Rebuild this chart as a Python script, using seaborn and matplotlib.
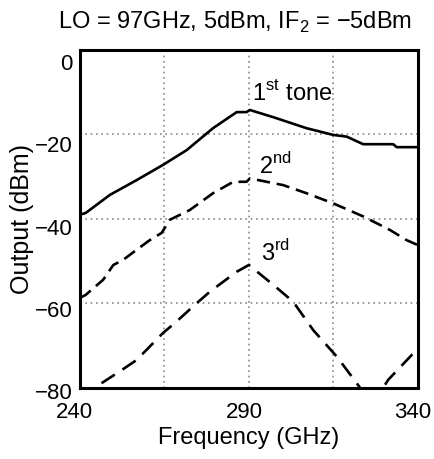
import matplotlib
matplotlib.use("Agg")
import matplotlib.pyplot as plt
import matplotlib.transforms as mtransforms
import numpy as np
import pandas as pd
import seaborn as sns

# 1st tone
f1 = [240, 241.7, 248.9, 256.8, 264.6, 271.6, 279.4, 286.4, 289.3, 290.3, 297.2,
      307.0, 314.9, 318.9, 323.8, 332.7, 333.7, 340]
p1 = [-39.0, -38.6, -34.3, -30.8, -27.2, -23.7, -18.5, -14.7, -14.7, -14.2, -15.9,
      -18.5, -20.1, -20.5, -22.3, -22.3, -23.0, -23.0]

# 2nd tone
f2 = [240, 241.7, 246.9, 249.9, 252.8, 256.8, 260.7, 264.2, 266.6, 272.5, 279.4,
      285.4, 289.3, 290.3, 300.2, 307.0, 314.9, 323.8, 331.7, 336.6, 340]
p2 = [-58.7, -58.0, -54.4, -50.9, -49.7, -47.3, -45.0, -43.3, -40.2, -37.9, -33.9,
      -31.2, -31.2, -30.4, -32.0, -33.9, -36.3, -39.4, -42.6, -45.0, -46.2]

# 3rd tone (dips below the axis limit around 323-330 GHz)
f3 = [246.4, 251.8, 256.8, 260.7, 264.6, 268.6, 273.5, 278.5, 286.4, 290.0, 297.2,
      303.1, 309.0, 316.0, 321.9, 326.5, 331.2, 339.6, 340]
p3 = [-78.9, -76.1, -73.4, -70.2, -67.0, -64.3, -60.7, -57.2, -52.5, -50.9, -55.6,
      -59.6, -66.3, -72.6, -78.9, -84.0, -78.1, -71.0, -70.6]

yticks = [-80, -60, -40, -20, 0]
ytick_labels = ["\u221280", "\u221260", "\u221240", "\u221220", "0"]
xticks = [240, 290, 340]

df = pd.concat([
    pd.DataFrame({"freq": f1, "out": p1, "tone": "1st"}),
    pd.DataFrame({"freq": f2, "out": p2, "tone": "2nd"}),
    pd.DataFrame({"freq": f3, "out": p3, "tone": "3rd"}),
])

sns.set_style("white")
plt.rcParams["font.family"] = ["Liberation Sans", "DejaVu Sans"]
plt.rcParams["mathtext.fontset"] = "custom"
plt.rcParams["mathtext.rm"] = "Liberation Sans"
plt.rcParams["text.color"] = "black"
plt.rcParams["axes.labelcolor"] = "black"
plt.rcParams["xtick.color"] = "black"
plt.rcParams["ytick.color"] = "black"

fig = plt.figure(figsize=(4.34, 4.59), dpi=100)
ax = fig.add_axes([0.184, 0.155, 0.779, 0.736])

styles = {"1st": (None, None), "2nd": (5, 2.6), "3rd": (6, 3.5)}
for tone, (dl, gl) in styles.items():
    d = df[df["tone"] == tone]
    sns.lineplot(data=d, x="freq", y="out", ax=ax, color="black",
                 lw=1.9, sort=False, estimator=None)
    if dl is not None:
        ax.lines[-1].set_dashes([dl, gl])

ax.set_xlim(240, 340)
ax.set_ylim(-80, 0)
ax.set_xticks(xticks)
ax.set_yticks(yticks)
ax.set_yticklabels(ytick_labels)
ax.set_xticks([265, 315], minor=True)
ax.grid(True, which="both", color="#888888", ls=(0, (1, 2.2)), lw=1.2)
ax.tick_params(axis="y", length=0, labelsize=16, pad=5)
ax.tick_params(axis="x", length=0, labelsize=16, pad=10)
# tick labels in the original sit slightly off their gridlines
for lab, dy in zip(ax.get_yticklabels(), [0.03, 0.06, 0.08, 0.10, 0.12]):
    lab.set_transform(lab.get_transform()
                      + mtransforms.ScaledTranslation(0, -dy, fig.dpi_scale_trans))
for lab in ax.get_xticklabels():
    lab.set_transform(lab.get_transform()
                      + mtransforms.ScaledTranslation(-0.05, 0, fig.dpi_scale_trans))
for s in ax.spines.values():
    s.set_linewidth(2.2)
    s.set_color("black")

ax.set_xlabel("Frequency (GHz)", fontsize=17, labelpad=3)
ax.set_ylabel("Output (dBm)", fontsize=18, labelpad=1)
ax.set_title("LO = 97GHz, 5dBm, IF$_2$ = \u22125dBm", fontsize=17, pad=15, x=0.46)

ax.text(291, -10, "1$^{\\rm st}$ tone", fontsize=17, ha="left", va="center")
ax.text(293, -27.5, "2$^{\\rm nd}$", fontsize=17, ha="left", va="center")
ax.text(293.5, -48, "3$^{\\rm rd}$", fontsize=17, ha="left", va="center")

fig.savefig("out.png", dpi=100)
